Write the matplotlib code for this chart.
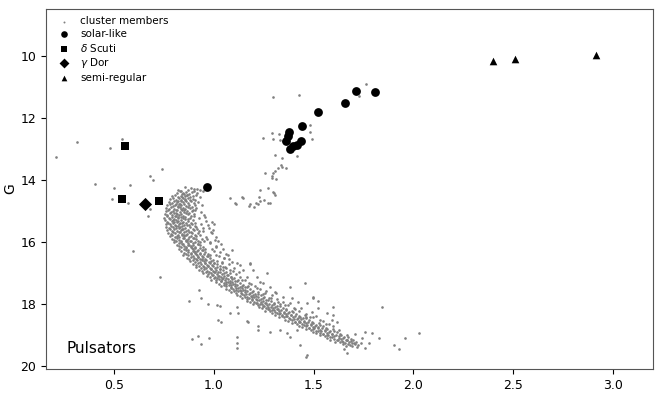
import matplotlib
matplotlib.use("Agg")
import matplotlib.pyplot as plt
import numpy as np

# ---- pulsators (colour BP-RP, magnitude G) ----
solar_like_color = [0.964, 1.715, 1.809, 1.655, 1.523, 1.443, 1.376, 1.370, 1.360, 1.380, 1.395, 1.415, 1.435]
solar_like_g     = [14.24, 11.13, 11.17, 11.52, 11.83, 12.26, 12.46, 12.60, 12.76, 13.00, 12.93, 12.88, 12.75]

delta_scuti_color = [0.555, 0.542, 0.725]
delta_scuti_g     = [12.92, 14.63, 14.69]

gamma_dor_color = [0.655]
gamma_dor_g     = [14.78]

semi_regular_color = [2.398, 2.511, 2.915]
semi_regular_g     = [10.18, 10.11, 9.98]

# ---- cluster members: main sequence (colour, G) ----
members_main_sequence = [
 (0.815,14.42),(0.832,14.37),(0.848,14.44),(0.861,14.39),(0.874,14.45),(0.889,14.41),(0.903,14.36),(0.842,14.47),(0.868,14.48),(0.918,14.43),
 (0.792,14.53),(0.808,14.49),(0.823,14.55),(0.836,14.51),(0.851,14.47),(0.857,14.54),(0.866,14.50),(0.879,14.56),(0.894,14.52),(0.911,14.48),(0.845,14.58),(0.929,14.55),
 (0.783,14.62),(0.797,14.58),(0.812,14.64),(0.826,14.60),(0.838,14.66),(0.843,14.57),(0.855,14.63),(0.869,14.59),(0.881,14.65),(0.897,14.61),(0.904,14.67),(0.820,14.68),(0.862,14.68),
 (0.774,14.71),(0.789,14.74),(0.801,14.68),(0.815,14.72),(0.829,14.77),(0.834,14.69),(0.847,14.73),(0.858,14.66),(0.871,14.75),(0.886,14.70),(0.899,14.76),(0.921,14.72),(0.810,14.78),
 (0.768,14.82),(0.781,14.78),(0.795,14.84),(0.807,14.80),(0.819,14.86),(0.826,14.77),(0.838,14.83),(0.851,14.79),(0.862,14.85),(0.876,14.81),(0.889,14.87),(0.905,14.83),(0.830,14.88),(0.941,14.80),
 (0.763,14.91),(0.776,14.95),(0.788,14.88),(0.801,14.93),(0.813,14.97),(0.822,14.89),(0.834,14.94),(0.846,14.90),(0.857,14.96),(0.869,14.87),(0.882,14.92),(0.897,14.98),(0.913,14.91),(0.850,14.99),
 (0.759,15.02),(0.772,14.98),(0.785,15.04),(0.796,15.00),(0.809,15.06),(0.818,14.97),(0.829,15.03),(0.841,14.99),(0.853,15.05),(0.864,15.01),(0.878,15.07),(0.892,15.02),(0.908,14.98),(0.800,15.08),(0.934,15.04),
 (0.755,15.11),(0.768,15.15),(0.781,15.08),(0.792,15.13),(0.804,15.17),(0.814,15.09),(0.825,15.14),(0.836,15.10),(0.847,15.16),(0.859,15.07),(0.871,15.12),(0.886,15.18),(0.903,15.11),(0.820,15.19),(0.952,15.13),
 (0.753,15.22),(0.765,15.18),(0.778,15.24),(0.789,15.20),(0.801,15.26),(0.811,15.17),(0.822,15.23),(0.834,15.19),(0.845,15.25),(0.856,15.21),(0.869,15.27),(0.883,15.22),(0.899,15.18),(0.795,15.29),(0.925,15.24),
 (0.756,15.31),(0.767,15.35),(0.779,15.28),(0.791,15.33),(0.802,15.37),(0.813,15.29),(0.823,15.34),(0.835,15.30),(0.846,15.36),(0.858,15.27),(0.871,15.32),(0.884,15.38),(0.898,15.31),(0.830,15.39),(0.962,15.33),
 (0.759,15.42),(0.771,15.38),(0.783,15.44),(0.795,15.40),(0.806,15.46),(0.817,15.37),(0.828,15.43),(0.839,15.39),(0.851,15.45),(0.863,15.41),(0.876,15.47),(0.889,15.42),(0.904,15.38),(0.812,15.49),(0.938,15.44),
 (0.762,15.51),(0.774,15.55),(0.786,15.48),(0.798,15.53),(0.809,15.57),(0.820,15.49),(0.831,15.54),(0.843,15.50),(0.855,15.56),(0.867,15.47),(0.880,15.52),(0.894,15.58),(0.910,15.51),(0.840,15.59),(0.975,15.55),
 (0.767,15.62),(0.779,15.58),(0.791,15.64),(0.803,15.60),(0.814,15.66),(0.825,15.57),(0.836,15.63),(0.848,15.59),(0.860,15.65),(0.872,15.61),(0.885,15.67),(0.899,15.62),(0.915,15.58),(0.828,15.69),(0.948,15.64),
 (0.772,15.71),(0.784,15.75),(0.796,15.68),(0.808,15.73),(0.819,15.77),(0.830,15.69),(0.841,15.74),(0.853,15.70),(0.865,15.76),(0.877,15.67),(0.890,15.72),(0.904,15.78),(0.920,15.71),(0.850,15.79),(0.991,15.73),
 (0.781,15.82),(0.793,15.78),(0.805,15.84),(0.817,15.80),(0.828,15.86),(0.839,15.77),(0.850,15.83),(0.862,15.79),(0.874,15.85),(0.886,15.81),(0.899,15.87),(0.913,15.82),(0.930,15.78),(0.845,15.89),(0.962,15.84),
 (0.791,15.91),(0.803,15.95),(0.815,15.88),(0.827,15.93),(0.838,15.97),(0.849,15.89),(0.860,15.94),(0.872,15.90),(0.884,15.96),(0.896,15.87),(0.909,15.92),(0.923,15.98),(0.940,15.91),(0.866,15.99),(1.004,15.93),
 (0.801,16.02),(0.813,15.98),(0.825,16.04),(0.837,16.00),(0.848,16.06),(0.859,15.97),(0.870,16.03),(0.882,15.99),(0.894,16.05),(0.906,16.01),(0.919,16.07),(0.933,16.02),(0.950,15.98),(0.878,16.09),(0.981,16.04),
 (0.815,16.11),(0.827,16.15),(0.839,16.08),(0.851,16.13),(0.862,16.17),(0.873,16.09),(0.884,16.14),(0.896,16.10),(0.908,16.16),(0.920,16.07),(0.933,16.12),(0.947,16.18),(0.890,16.19),(1.012,16.13),
 (0.826,16.22),(0.838,16.18),(0.850,16.24),(0.862,16.20),(0.873,16.26),(0.884,16.17),(0.895,16.23),(0.907,16.19),(0.919,16.25),(0.931,16.21),(0.944,16.27),(0.958,16.22),(0.900,16.29),(0.990,16.24),
 (0.837,16.31),(0.849,16.35),(0.861,16.28),(0.873,16.33),(0.884,16.37),(0.895,16.29),(0.906,16.34),(0.918,16.30),(0.930,16.36),(0.942,16.27),(0.955,16.32),(0.969,16.38),(0.912,16.39),(1.031,16.33),
 (0.848,16.42),(0.860,16.38),(0.872,16.44),(0.884,16.40),(0.895,16.46),(0.906,16.37),(0.917,16.43),(0.929,16.39),(0.941,16.45),(0.953,16.41),(0.966,16.47),(0.980,16.42),(0.923,16.49),(1.009,16.44),
 (0.864,16.51),(0.876,16.55),(0.888,16.48),(0.900,16.53),(0.911,16.57),(0.922,16.49),(0.933,16.54),(0.945,16.50),(0.957,16.56),(0.969,16.47),(0.982,16.52),(0.996,16.58),(0.940,16.59),(1.052,16.53),
 (0.882,16.62),(0.894,16.58),(0.906,16.64),(0.918,16.60),(0.929,16.66),(0.940,16.57),(0.951,16.63),(0.963,16.59),(0.975,16.65),(0.987,16.61),(1.000,16.67),(1.014,16.62),(0.955,16.69),(1.041,16.64),
 (0.898,16.71),(0.910,16.75),(0.922,16.68),(0.934,16.73),(0.945,16.77),(0.956,16.69),(0.967,16.74),(0.979,16.70),(0.991,16.76),(1.003,16.67),(1.016,16.72),(1.030,16.78),(0.970,16.79),(1.078,16.73),
 (0.913,16.82),(0.925,16.78),(0.937,16.84),(0.949,16.80),(0.960,16.86),(0.971,16.77),(0.982,16.83),(0.994,16.79),(1.006,16.85),(1.018,16.81),(1.031,16.87),(1.045,16.82),(0.987,16.89),(1.062,16.84),
 (0.928,16.91),(0.940,16.95),(0.952,16.88),(0.964,16.93),(0.975,16.97),(0.986,16.89),(0.997,16.94),(1.009,16.90),(1.021,16.96),(1.033,16.87),(1.046,16.92),(1.060,16.98),(1.000,16.99),(1.095,16.93),
 (0.948,17.02),(0.960,16.98),(0.972,17.04),(0.984,17.00),(0.995,17.06),(1.006,16.97),(1.017,17.03),(1.029,16.99),(1.041,17.05),(1.053,17.01),(1.066,17.07),(1.080,17.02),(1.020,17.09),(1.110,17.04),
 (0.968,17.11),(0.980,17.15),(0.992,17.08),(1.004,17.13),(1.015,17.17),(1.026,17.09),(1.037,17.14),(1.049,17.10),(1.061,17.16),(1.073,17.07),(1.086,17.12),(1.100,17.18),(1.040,17.19),(1.132,17.13),
 (0.988,17.22),(1.000,17.18),(1.012,17.24),(1.024,17.20),(1.035,17.26),(1.046,17.17),(1.057,17.23),(1.069,17.19),(1.081,17.25),(1.093,17.21),(1.106,17.27),(1.120,17.22),(1.060,17.29),(1.155,17.24),
 (1.013,17.31),(1.025,17.35),(1.037,17.28),(1.049,17.33),(1.060,17.37),(1.071,17.29),(1.082,17.34),(1.094,17.30),(1.106,17.36),(1.118,17.27),(1.131,17.32),(1.145,17.38),(1.085,17.39),(1.178,17.33),
 (1.038,17.42),(1.050,17.38),(1.062,17.44),(1.074,17.40),(1.085,17.46),(1.096,17.37),(1.107,17.43),(1.119,17.39),(1.131,17.45),(1.143,17.41),(1.156,17.47),(1.170,17.42),(1.110,17.49),(1.205,17.44),
 (1.063,17.51),(1.075,17.55),(1.087,17.48),(1.099,17.53),(1.110,17.57),(1.121,17.49),(1.132,17.54),(1.144,17.50),(1.156,17.56),(1.168,17.47),(1.181,17.52),(1.195,17.58),(1.135,17.59),(1.232,17.53),
 (1.088,17.62),(1.100,17.58),(1.112,17.64),(1.124,17.60),(1.135,17.66),(1.146,17.57),(1.157,17.63),(1.169,17.59),(1.181,17.65),(1.193,17.61),(1.206,17.67),(1.220,17.62),(1.160,17.69),(1.258,17.64),
 (1.118,17.71),(1.130,17.75),(1.142,17.68),(1.154,17.73),(1.165,17.77),(1.176,17.69),(1.187,17.74),(1.199,17.70),(1.211,17.76),(1.223,17.67),(1.236,17.72),(1.250,17.78),(1.190,17.79),(1.290,17.73),
 (1.143,17.82),(1.155,17.78),(1.167,17.84),(1.179,17.80),(1.190,17.86),(1.201,17.77),(1.212,17.83),(1.224,17.79),(1.236,17.85),(1.248,17.81),(1.261,17.87),(1.275,17.82),(1.215,17.89),(1.318,17.84),
 (1.168,17.91),(1.180,17.95),(1.192,17.88),(1.204,17.93),(1.215,17.97),(1.226,17.89),(1.237,17.94),(1.249,17.90),(1.261,17.96),(1.273,17.87),(1.286,17.92),(1.300,17.98),(1.240,17.99),(1.345,17.93),
 (1.198,18.02),(1.210,17.98),(1.222,18.04),(1.234,18.00),(1.245,18.06),(1.256,17.97),(1.267,18.03),(1.279,17.99),(1.291,18.05),(1.303,18.01),(1.316,18.07),(1.330,18.02),(1.270,18.09),(1.372,18.04),
 (1.228,18.11),(1.240,18.15),(1.252,18.08),(1.264,18.13),(1.275,18.17),(1.286,18.09),(1.297,18.14),(1.309,18.10),(1.321,18.16),(1.333,18.07),(1.346,18.12),(1.360,18.18),(1.300,18.19),(1.401,18.13),
 (1.258,18.22),(1.270,18.18),(1.282,18.24),(1.294,18.20),(1.305,18.26),(1.316,18.17),(1.327,18.23),(1.339,18.19),(1.351,18.25),(1.363,18.21),(1.376,18.27),(1.390,18.22),(1.330,18.29),(1.428,18.24),
 (1.293,18.31),(1.305,18.35),(1.317,18.28),(1.329,18.33),(1.340,18.37),(1.351,18.29),(1.362,18.34),(1.374,18.30),(1.386,18.36),(1.398,18.27),(1.411,18.32),(1.425,18.38),(1.365,18.39),(1.462,18.33),
 (1.328,18.42),(1.340,18.38),(1.352,18.44),(1.364,18.40),(1.375,18.46),(1.386,18.37),(1.397,18.43),(1.409,18.39),(1.421,18.45),(1.433,18.41),(1.446,18.47),(1.460,18.42),(1.400,18.49),(1.498,18.44),
 (1.358,18.51),(1.370,18.55),(1.382,18.48),(1.394,18.53),(1.405,18.57),(1.416,18.49),(1.427,18.54),(1.439,18.50),(1.451,18.56),(1.463,18.47),(1.476,18.52),(1.490,18.58),(1.430,18.59),(1.531,18.53),
 (1.393,18.62),(1.405,18.58),(1.417,18.64),(1.429,18.60),(1.440,18.66),(1.451,18.57),(1.462,18.63),(1.474,18.59),(1.486,18.65),(1.498,18.61),(1.511,18.67),(1.525,18.62),(1.465,18.69),(1.562,18.64),
 (1.428,18.71),(1.440,18.75),(1.452,18.68),(1.464,18.73),(1.475,18.77),(1.486,18.69),(1.497,18.74),(1.509,18.70),(1.521,18.76),(1.533,18.67),(1.546,18.72),(1.560,18.78),(1.500,18.79),(1.598,18.73),
 (1.463,18.82),(1.475,18.78),(1.487,18.84),(1.499,18.80),(1.510,18.86),(1.521,18.77),(1.532,18.83),(1.544,18.79),(1.556,18.85),(1.568,18.81),(1.581,18.87),(1.595,18.82),(1.535,18.89),(1.628,18.84),
 (1.498,18.91),(1.510,18.95),(1.522,18.88),(1.534,18.93),(1.545,18.97),(1.556,18.89),(1.567,18.94),(1.579,18.90),(1.591,18.96),(1.603,18.87),(1.616,18.92),(1.630,18.98),(1.570,18.99),
 (1.533,19.02),(1.545,18.98),(1.557,19.04),(1.569,19.00),(1.580,19.06),(1.591,18.97),(1.602,19.03),(1.614,18.99),(1.626,19.05),(1.638,19.01),(1.651,19.07),(1.665,19.02),
 (1.568,19.11),(1.580,19.15),(1.592,19.08),(1.604,19.13),(1.615,19.17),(1.626,19.09),(1.637,19.14),(1.649,19.10),(1.661,19.16),(1.673,19.07),(1.686,19.12),(1.700,19.18),
 (1.608,19.22),(1.620,19.18),(1.632,19.24),(1.644,19.20),(1.655,19.26),(1.666,19.17),(1.677,19.23),(1.689,19.19),(1.701,19.25),(1.715,19.22),
 (1.648,19.31),(1.660,19.35),(1.672,19.28),(1.684,19.33),(1.695,19.37),(1.708,19.29),(1.722,19.34),
]

# turn-off hook, subgiants and red giants
members_giants = [
 (0.820,14.33),(0.854,14.23),(0.870,14.33),(0.885,14.27),(0.900,14.30),(0.915,14.31),(0.930,14.33),(0.945,14.36),(0.835,14.38),
 (1.080,14.60),(1.105,14.75),(1.140,14.56),(1.175,14.85),(1.110,14.78),(1.200,14.88),(1.220,14.79),(1.230,14.70),(1.225,14.56),
 (1.250,14.66),(1.270,14.75),(1.180,14.78),(1.145,14.60),(1.210,14.75),(1.280,14.75),(1.230,14.33),(1.270,14.27),(1.295,14.40),
 (1.305,14.50),(1.300,14.43),(1.255,13.78),(1.290,13.94),(1.295,13.78),(1.305,13.72),(1.314,13.97),(1.320,13.62),(1.335,13.53),
 (1.340,13.59),(1.364,13.62),(1.290,13.88),(1.305,13.20),(1.340,13.30),(1.415,13.24),(1.290,12.50),(1.245,12.66),(1.325,12.53),
 (1.295,12.69),(1.330,12.72),(1.345,12.76),(1.490,12.69),(1.480,12.46),(1.480,12.25),(1.295,11.34),(1.425,11.27),(1.765,10.92),
 (1.730,11.30),
]

# binaries and scattered stars around the main sequence
members_scatter = [
 (0.990,15.36),(1.000,15.43),(1.010,15.85),(1.090,16.27),(1.070,16.43),(1.050,16.53),(1.090,16.65),(1.130,16.75),(1.180,16.70),
 (1.040,16.68),(1.010,16.17),(0.980,16.00),(0.945,15.56),(0.995,15.62),(1.180,16.73),(1.380,17.45),(1.455,17.33),(1.280,17.45),
 (1.314,17.65),(1.345,17.78),(1.390,17.80),(1.420,17.94),(1.465,17.97),(1.495,17.78),(1.520,18.13),(1.490,18.26),(1.565,18.30),
 (1.595,18.36),(1.590,18.52),(1.615,18.58),(1.245,17.33),(1.215,17.13),(1.195,16.90),(1.265,17.00),(1.145,16.90),(1.080,16.90),
 (1.115,16.70),(1.115,18.10),(1.170,18.58),(1.220,18.84),(1.280,18.90),(1.330,18.84),(1.380,19.07),(1.415,18.84),(1.430,19.32),
 (1.460,19.70),(1.115,19.07),(1.115,19.26),(1.115,19.42),(1.220,18.70),(1.365,18.94),(0.874,17.90),(0.924,17.55),(0.938,17.80),
 (0.970,18.00),(1.014,18.03),(1.030,18.06),(1.020,18.52),(1.034,18.58),(1.079,18.30),(1.120,18.30),(1.165,18.55),(0.893,19.13),
 (0.920,19.03),(0.938,19.29),(0.974,19.10),(0.729,17.13),(0.594,16.30),(1.495,17.80),(1.520,17.90),(1.595,18.10),(1.845,18.10),
 (2.026,18.94),(1.960,19.10),(1.830,19.10),(1.905,19.32),(1.930,19.45),(1.760,18.90),(1.795,18.94),(1.710,18.97),(1.745,19.10),
 (1.780,19.26),(1.740,19.26),(1.720,19.38),(1.760,19.42),(1.670,19.16),(1.645,19.23),(1.650,19.45),(1.665,19.58),(1.695,19.26),
 (1.465,19.65),
 (0.955,15.21),(0.972,15.47),(0.985,15.70),(1.020,15.98),(0.968,15.92),(1.035,16.08),(1.001,16.31),(1.045,16.22),(1.062,16.38),
 (1.028,16.47),(1.075,16.56),(1.058,16.80),(1.102,16.83),(1.088,17.12),(1.125,16.98),(1.142,17.22),(1.168,17.15),(1.189,17.36),
 (1.215,17.48),(1.233,17.29),(1.262,17.58),(1.248,17.69),(1.286,17.80),(1.305,17.62),(1.322,17.95),(1.355,18.05),(1.382,17.98),
 (1.408,18.18),(1.435,18.12),(1.458,18.35),(1.482,18.42),(1.512,18.38),(1.545,18.55),(1.575,18.66),(0.905,15.48),(0.924,15.66),
]

# bright blue field stars
members_field = [
 (0.210,13.27),(0.317,12.79),(0.478,12.97),(0.540,12.69),(0.405,14.14),(0.503,14.27),(0.583,14.17),(0.492,14.62),(0.569,14.75),
 (0.679,13.88),(0.698,14.00),(0.743,13.65),(0.679,14.95),(0.670,15.17),
]

all_members = members_main_sequence + members_giants + members_scatter + members_field
member_color = [p[0] for p in all_members]
member_g = [p[1] for p in all_members]

fig = plt.figure(figsize=(6.64, 3.99), dpi=100)
ax = fig.add_axes([0.0693, 0.0752, 0.9141, 0.9022])

ax.scatter(member_color, member_g, s=3.6, color='#808080', marker='o', linewidths=0,
           label='cluster members', zorder=1)
ax.scatter(solar_like_color, solar_like_g, s=40, color='black', marker='o', linewidths=0,
           label='solar-like', zorder=3)
ax.scatter(delta_scuti_color, delta_scuti_g, s=36, color='black', marker='s', linewidths=0,
           label=r'$\delta$ Scuti', zorder=3)
ax.scatter(gamma_dor_color, gamma_dor_g, s=45, color='black', marker='D', linewidths=0,
           label=r'$\gamma$ Dor', zorder=3)
ax.scatter(semi_regular_color, semi_regular_g, s=30, color='black', marker='^', linewidths=0,
           label='semi-regular', zorder=3)

ax.set_xlim(0.16, 3.2)
ax.set_ylim(20.1, 8.5)
ax.set_xticks([0.5, 1.0, 1.5, 2.0, 2.5, 3.0])
ax.set_yticks([10, 12, 14, 16, 18, 20])
ax.tick_params(labelsize=9)
ax.set_ylabel('G', fontsize=10, labelpad=2)
for sp in ax.spines.values():
    sp.set_color('#555555')

ax.text(0.263, 19.45, 'Pulsators', fontsize=11, va='center', ha='left')

leg = ax.legend(loc='upper left', frameon=False, fontsize=7.5, markerscale=0.75,
                handletextpad=0.6, labelspacing=0.25, borderaxespad=0.3)

fig.savefig('out.png', dpi=100)
